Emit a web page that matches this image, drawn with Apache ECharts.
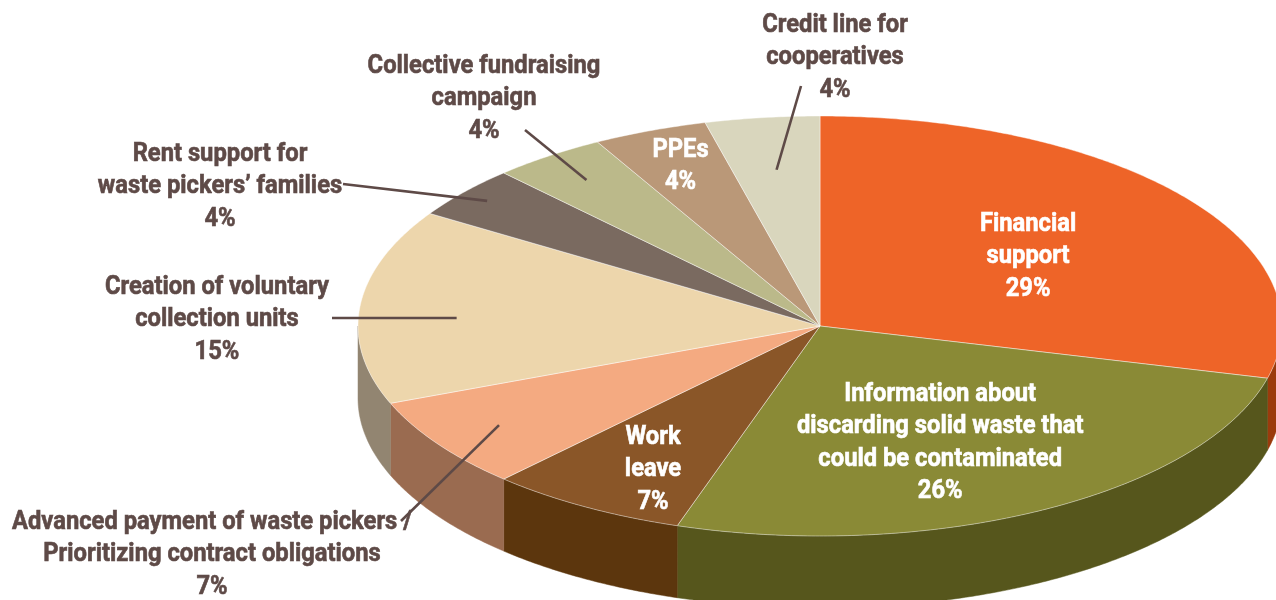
<!DOCTYPE html>
<html>
<head>
<meta charset="utf-8">
<script src="https://cdn.jsdelivr.net/npm/echarts@6/dist/echarts.min.js"></script>
<style>
  html, body { margin: 0; padding: 0; background: #ffffff; }
  #chart { width: 1276px; height: 600px; }
</style>
</head>
<body>
<div id="chart"></div>
<script>
// Support measures for waste pickers, share of responses (%)
const categories = [
  'Financial support',
  'Information about discarding solid waste that could be contaminated',
  'Work leave',
  'Advanced payment of waste pickers / Prioritizing contract obligations',
  'Creation of voluntary collection units',
  'Rent support for waste pickers\u2019 families',
  'Collective fundraising campaign',
  'PPEs',
  'Credit line for cooperatives'
];
const values = [29, 26, 7, 7, 15, 4, 4, 4, 4];

// Label text, one entry per slice, wrapped the way it is printed
const labelLines = [
  ['Financial', 'support'],
  ['Information about', 'discarding solid waste that', 'could be contaminated'],
  ['Work', 'leave'],
  ['Advanced payment of waste pickers /', 'Prioritizing contract obligations'],
  ['Creation of voluntary', 'collection units'],
  ['Rent support for', 'waste pickers\u2019 families'],
  ['Collective fundraising', 'campaign'],
  ['PPEs'],
  ['Credit line for', 'cooperatives']
];

// Slice colours: top face and darker rim
const topColors  = ['#EE6428', '#8A8A36', '#8A5628', '#F4AA81', '#EDD6AC', '#7A6A60', '#BBB98A', '#BA9878', '#D9D6BD'];
const sideColors = ['#9B3B0C', '#56561C', '#5C360D', '#9A6B50', '#928571', '#50453E', '#7D7B5A', '#7C634E', '#908E7C'];

// Geometry of the tilted disc
const CX = 820, CY = 326, RX = 462, RY = 210, DEPTH = 72;
const TEXT_DARK = '#5E4A47';
const FONT = 'bold 25px Roboto, "Liberation Sans", sans-serif';
const LINE_H = 32.5;
const SCALE_X = 0.95;
const TEXT_SHIFT = 3;

// Label placement: inside labels sit at a fraction of the radius along the
// slice's middle angle; outside labels have a text anchor and a leader line.
const labelLayout = [
  { inside: true, fx: 0.57, fy: 0.56 },
  { inside: true, fx: 0.54, fy: 0.62 },
  { inside: true, fx: 0.71, fy: 0.78 },
  { inside: false, tx: 212, ty: 552, lx: 401, ly: 521, fx: 0.84, fy: 0.84 },
  { inside: false, tx: 217, ty: 317, lx: 332, ly: 318, fx: 0.79, fy: 0.405 },
  { inside: false, tx: 220, ty: 184, lx: 343, ly: 184, fx: 0.935, fy: 0.935 },
  { inside: false, tx: 484, ty: 96, lx: 525, ly: 130, fx: 0.86, fy: 0.86 },
  { inside: true, fx: 0.82, fy: 0.83 },
  { inside: false, tx: 835, ty: 55, lx: 801, ly: 86, fx: 0.75, fy: 0.75 }
];

const total = values.reduce((a, b) => a + b, 0);
const cum = [0];
values.forEach((v, i) => cum.push(cum[i] + v));

function angleAt(c) { return c / total * Math.PI * 2; }
function pt(a, fx, fy, dy) {
  return [CX + RX * fx * Math.sin(a), CY - RY * fy * Math.cos(a) + (dy || 0)];
}
function arc(a0, a1, dy) {
  const pts = [];
  const n = Math.max(2, Math.ceil((a1 - a0) / (Math.PI / 360)));
  for (let k = 0; k <= n; k++) {
    const a = a0 + (a1 - a0) * k / n;
    pts.push(pt(a, 1, 1, dy));
  }
  return pts;
}

function renderSlice(params, api) {
  const i = params.dataIndex;
  const a0 = angleAt(cum[i]);
  const a1 = angleAt(cum[i] + api.value(0));
  const children = [];
  // visible rim: front half of the disc (90° .. 270° clockwise from top)
  const lo = Math.max(a0, Math.PI / 2), hi = Math.min(a1, Math.PI * 1.5);
  if (lo < hi) {
    const pts = arc(lo, hi, 0).concat(arc(lo, hi, DEPTH).reverse());
    children.push({
      type: 'polygon',
      shape: { points: pts },
      style: { fill: sideColors[i], stroke: sideColors[i], lineWidth: 0.5 }
    });
  }
  const topPts = [[CX, CY]].concat(arc(a0, a1, 0));
  children.push({
    type: 'polygon',
    shape: { points: topPts },
    style: { fill: topColors[i], stroke: 'rgba(255,255,255,0.55)', lineWidth: 0.8 }
  });
  return { type: 'group', children: children };
}

function renderLabel(params, api) {
  const i = params.dataIndex;
  const v = api.value(0);
  const mid = angleAt(cum[i] + v / 2);
  const L = labelLayout[i];
  const lines = labelLines[i].concat([v + '%']);
  const children = [];
  let cx, cy, fill;
  if (L.inside) {
    const p = pt(mid, L.fx, L.fy, 0);
    cx = p[0]; cy = p[1]; fill = '#ffffff';
  } else {
    cx = L.tx; cy = L.ty; fill = TEXT_DARK;
    const p = pt(mid, L.fx, L.fy, 0);
    children.push({
      type: 'line',
      shape: { x1: L.lx, y1: L.ly, x2: p[0], y2: p[1] },
      style: { stroke: TEXT_DARK, lineWidth: 2.6 }
    });
  }
  const top = cy - (lines.length - 1) * LINE_H / 2 + TEXT_SHIFT;
  lines.forEach((t, k) => {
    children.push({
      type: 'text',
      x: cx, y: top + k * LINE_H,
      scaleX: SCALE_X,
      style: {
        text: t, x: 0, y: 0,
        fill: fill, font: FONT,
        stroke: fill, lineWidth: 0.6,
        align: 'center', verticalAlign: 'middle'
      }
    });
  });
  return { type: 'group', children: children };
}

const seriesData = values.map((v, i) => ({ name: categories[i], value: [v] }));

const chart = echarts.init(document.getElementById('chart'), null, { renderer: 'canvas' });
chart.setOption({
  backgroundColor: '#ffffff',
  animation: false,
  series: [
    { type: 'custom', coordinateSystem: 'none', renderItem: renderSlice, data: seriesData, z: 2 },
    { type: 'custom', coordinateSystem: 'none', renderItem: renderLabel, data: seriesData, z: 3, silent: true }
  ]
});
</script>
</body>
</html>
